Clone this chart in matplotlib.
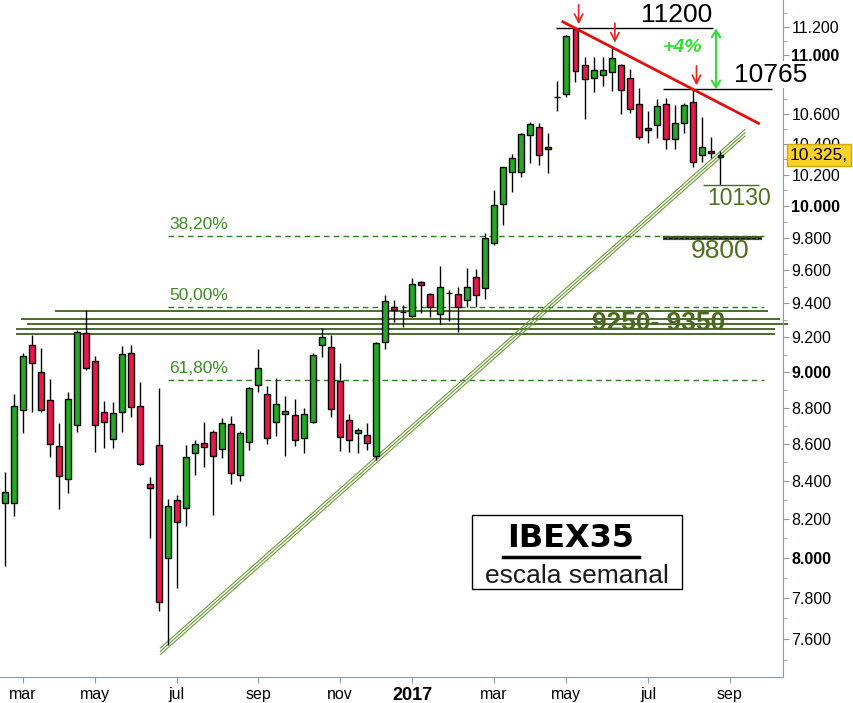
import numpy as np
import pandas as pd
import matplotlib
matplotlib.use('Agg')
import matplotlib.pyplot as plt
from matplotlib.patches import Rectangle
from matplotlib.lines import Line2D
from matplotlib.ticker import FixedLocator, NullFormatter

plt.rcParams['font.family'] = ['Liberation Sans', 'DejaVu Sans']

# IBEX35 weekly candles, first week starts 22 feb 2016
opens = [8286, 8286, 8787, 9156, 9002, 8841, 8587, 8409, 8702, 9224,
         9062, 8774, 8624, 8774, 9108, 8807, 8384, 8592, 7998, 8298,
         8260, 8549, 8603, 8663, 8570, 8707, 8431, 8608, 8925, 8877,
         8718, 8763, 8757, 8630, 8720, 9154, 9143, 8948, 8731, 8657,
         8647, 8534, 9172, 9378, 9352, 9328, 9531, 9454, 9337, 9462,
         9454, 9419, 9561, 9491, 9770, 10013, 10215, 10215, 10459, 10511,
         10367, 10712, 10736, 11184, 10935, 10842, 10862, 10886, 10930, 10842,
         10665, 10508, 10525, 10665, 10435, 10538, 10683, 10328, 10356, 10313]
highs = [8450, 8877, 9108, 9214, 9137, 8959, 8713, 8888, 9244, 9362,
         9093, 8837, 8831, 9150, 9156, 8944, 8423, 8909, 8305, 8326,
         8594, 8621, 8722, 8676, 8744, 8754, 8670, 8918, 9133, 8922,
         8965, 8866, 8847, 8796, 9108, 9254, 9214, 9054, 8763, 8686,
         8713, 9175, 9450, 9421, 9391, 9551, 9535, 9464, 9626, 9480,
         9497, 9612, 9606, 9827, 10098, 10250, 10335, 10470, 10544, 10538,
         10470, 10825, 11145, 11190, 10990, 10987, 10990, 11060, 10943, 10907,
         10773, 10621, 10703, 10706, 10661, 10673, 10765, 10577, 10448, 10356]
lows = [7960, 8217, 8658, 8777, 8777, 8527, 8251, 8338, 8667, 9010,
        8558, 8579, 8576, 8667, 8750, 8484, 8101, 7738, 7572, 7850,
        8166, 8432, 8477, 8221, 8525, 8384, 8400, 8566, 8890, 8599,
        8643, 8534, 8590, 8549, 8713, 9086, 8750, 8563, 8558, 8552,
        8566, 8513, 9131, 9292, 9262, 9317, 9342, 9322, 9276, 9298,
        9234, 9382, 9382, 9425, 9752, 9880, 10089, 10187, 10272, 10263,
        10213, 10621, 10717, 10818, 10563, 10750, 10789, 10757, 10600, 10604,
        10431, 10404, 10441, 10365, 10367, 10474, 10251, 10284, 10306, 10130]
closes = [8344, 8809, 9093, 9051, 8787, 8597, 8427, 8847, 9230, 9022,
          8702, 8718, 8768, 9103, 8802, 8490, 8362, 7781, 8267, 8183,
          8527, 8597, 8584, 8536, 8713, 8445, 8657, 8909, 9022, 8630,
          8818, 8781, 8619, 8763, 9097, 9201, 8791, 8636, 8621, 8676,
          8603, 9166, 9415, 9364, 9352, 9517, 9510, 9378, 9501, 9462,
          9378, 9497, 9448, 9796, 10003, 10247, 10306, 10464, 10531, 10326,
          10380, 10712, 11137, 10890, 10835, 10900, 10900, 10979, 10762, 10634,
          10448, 10493, 10650, 10431, 10538, 10657, 10279, 10382, 10343, 10328]

first_week = '2016-02-22'
month_abbr = ['ene', 'feb', 'mar', 'abr', 'may', 'jun',
              'jul', 'ago', 'sep', 'oct', 'nov', 'dic']

fib_ratios = [0.382, 0.5, 0.618]
fib_labels = ['38,20%', '50,00%', '61,80%']
support_levels = [9356, 9309, 9279, 9250, 9220]
support_start = [5.6, 1.8, 2.5, 1.3, 1.3]
support_end = [84.2, 85.6, 86.4, 85.0, 85.0]
level_9800 = 9800
level_10130 = 10130
last_price = 10325
peak_weeks = [63, 67, 76]

GREEN = '#25a825'
RED = '#e8194a'
OLIVE = '#4a6b1f'

opens, highs, lows, closes = map(np.array, (opens, highs, lows, closes))
x = np.arange(len(opens))
weeks = pd.date_range(first_week, periods=len(opens) + 1, freq='W-MON')

fig = plt.figure(figsize=(8.54, 7.03), dpi=100)
ax = fig.add_axes([0, 0.037, 0.9169, 0.963])
ax.set_yscale('log')

# candles
colors = np.where(closes >= opens, GREEN, RED)
ax.vlines(x, lows, highs, color='black', lw=1, zorder=2)
ax.bar(x, closes - opens, bottom=opens, width=0.66, color=colors,
       edgecolor='black', linewidth=1, zorder=3)

ax.set_xlim(-0.5, 85.9)
ax.set_ylim(7419, 11393)

# fibonacci retracements of the whole move
lo, hi = lows.min(), highs.max()
for r, lab in zip(fib_ratios, fib_labels):
    lvl = hi - r * (hi - lo)
    ax.hlines(lvl, 18, 83.8, colors='#2d7d1e', linestyles=(0, (4, 3)), lw=1, zorder=1)
    ax.annotate(lab, (18.2, lvl), xytext=(0, 3), textcoords='offset points',
                va='bottom', ha='left', color='#3c8c28', fontsize=12.5)

# 9250-9350 support zone
for lvl, s, e in zip(support_levels, support_start, support_end):
    ax.hlines(lvl, s, e, colors='#3e5f1a', lw=1.3, zorder=1, clip_on=False)
ax.text(72.2, 9283, '9250- 9350', ha='center', va='center', fontsize=19,
        fontweight='bold', color=OLIVE, zorder=4)

# 9800 target
ax.hlines(level_9800, 72.7, 83.6, colors='#3f5e1b', lw=3, zorder=2)
ax.hlines(level_9800, 72.7, 83.6, colors='black', lw=0.8, linestyles=(0, (3, 2)), zorder=2)
ax.text(78.9, 9716, '9800', ha='center', va='center', fontsize=19, color='#4f6f23')

# 10130 low
ax.hlines(level_10130, 77.1, 83.2, colors='#4a6a20', lw=1, zorder=2)
ax.text(81.1, 10045, '10130', ha='center', va='center', fontsize=16.5, color='#4f6f23')

# rising channel through the two lows
i1, i2 = 18, 41
k = np.log(lows[i2] / lows[i1]) / (i2 - i1)
cx = np.array([17.2, 81.7])
cy = lows[i1] * np.exp(k * (cx - i1))
for f in (0.9979, 1.0, 1.0021):
    ax.plot(cx, cy * f, color='#6a9a3a', lw=0.8, zorder=1)

# falling resistance through the highs
p1, p3 = peak_weeks[0], peak_weeks[-1]
kr = np.log(highs[p3] / highs[p1]) / (p3 - p1)
rx = np.array([61.6, 83.2])
ry = highs[p1] * np.exp(kr * (rx - p1))
ax.plot(rx, ry, color='#e01010', lw=2, zorder=4)

for p in peak_weeks:
    ax.annotate('', xy=(p + 0.35, highs[p]), xytext=(0, 17), textcoords='offset points',
                arrowprops=dict(arrowstyle='->,head_length=0.6,head_width=0.3',
                                color='#e8201c', lw=1.2, shrinkA=0, shrinkB=3))

# 11200 / 10765 levels
ax.hlines(highs[p1], 60.8, 78.2, colors='black', lw=1, zorder=2)
ax.annotate('11200', (74.2, highs[p1]), xytext=(0, 1), textcoords='offset points',
            ha='center', va='bottom', fontsize=19)
ax.hlines(highs[p3], 72.7, 84.7, colors='black', lw=1, zorder=2)
ax.annotate('10765', (84.5, highs[p3]), xytext=(0, 2), textcoords='offset points',
            ha='center', va='bottom', fontsize=19, zorder=5,
            bbox=dict(boxstyle='square,pad=0.05', fc='white', ec='none'))
ax.annotate('', xy=(78.5, highs[p3]), xytext=(78.5, highs[p1]),
            arrowprops=dict(arrowstyle='<->,head_length=0.5,head_width=0.3',
                            color='#33dd33', lw=1.5, shrinkA=0, shrinkB=0))
ax.text(74.8, 11052, '+4%', ha='center', va='center', fontsize=14,
        fontweight='bold', fontstyle='italic', color='#33dd33')

# axes styling
for s in ('top', 'left'):
    ax.spines[s].set_visible(False)
for s in ('right', 'bottom'):
    ax.spines[s].set_color('#8c9aa5')

major = np.arange(7600, 11201, 200)
minor = np.arange(7500, 11301, 100)
ax.yaxis.tick_right()
ax.yaxis.set_major_locator(FixedLocator(major))
ax.yaxis.set_minor_locator(FixedLocator(minor))
ax.yaxis.set_minor_formatter(NullFormatter())
ylabels = ['' if v == 10800 else f'{v:,.0f}'.replace(',', '.') for v in major]
ax.set_yticklabels(ylabels)
for v, t in zip(major, ax.get_yticklabels()):
    if v % 1000 == 0:
        t.set_fontweight('bold')
ax.tick_params(axis='y', which='major', direction='out', length=4, pad=2,
               color='#8c9aa5', labelsize=11.5)
ax.tick_params(axis='y', which='minor', direction='out', length=3, color='#8c9aa5')

tick_pos, tick_lab = [], []
for i in range(1, len(weeks)):
    m = weeks[i].month
    if m != weeks[i - 1].month and m % 2 == 1:
        tick_pos.append(i)
        tick_lab.append(str(weeks[i].year) if m == 1 else month_abbr[m - 1])
ax.set_xticks(tick_pos)
ax.set_xticklabels(tick_lab)
ax.tick_params(axis='x', direction='out', length=4, pad=3, color='#8c9aa5', labelsize=11.5)
for t in ax.get_xticklabels():
    if t.get_text().isdigit():
        t.set_fontweight('bold')
        t.set_fontsize(13)

# last price tag
fig.text(790 / 854, 1 - 155 / 703, f'{last_price:,.0f}'.replace(',', '.') + ',',
         fontsize=12.5, va='center', ha='left',
         bbox=dict(boxstyle='square,pad=0.2', fc='#fcd12a', ec='#d4a800'))

# title box
fig.add_artist(Rectangle((0.5527, 0.1622), 0.2459, 0.1053, transform=fig.transFigure,
                         fc='white', ec='black', lw=1))
fig.text(0.6686, 0.2333, 'IBEX35', ha='center', va='center', fontsize=23,
         fontweight='bold', family='DejaVu Sans')
fig.add_artist(Line2D([0.589, 0.748], [0.2077, 0.2077], transform=fig.transFigure,
                      color='black', lw=2.5))
fig.text(0.6756, 0.1807, 'escala semanal', ha='center', va='center', fontsize=19,
         color='#1a1a1a')

fig.savefig('out.png', dpi=100, facecolor='white')
